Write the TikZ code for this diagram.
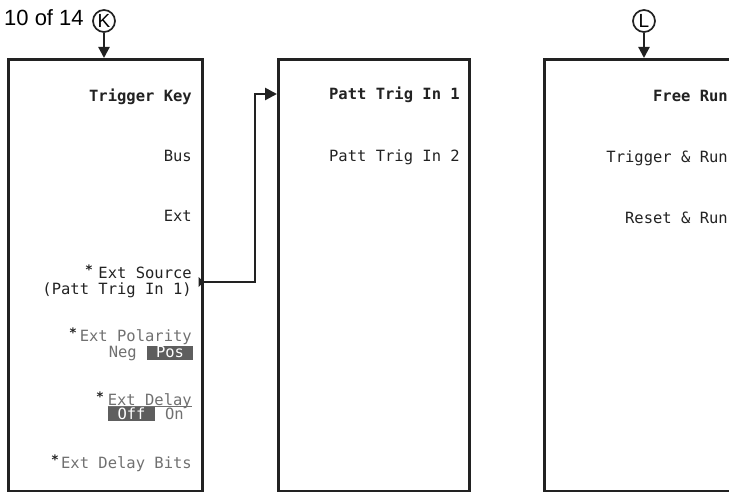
\documentclass[tikz,border=0pt]{standalone}
\usepackage{fontspec}
\setmainfont{Liberation Sans}
\newfontfamily\menufont{DejaVu Sans Mono}
\usetikzlibrary{arrows.meta,calc}
\definecolor{ink}{HTML}{222222}
\definecolor{dim}{HTML}{707070}
\definecolor{hil}{HTML}{5E5E5E}
\tikzset{
  menubox/.style={draw=ink, line width=2.6pt, anchor=north west, inner sep=0pt,
    minimum height=432pt},
  softkey/.style={anchor=base east, inner sep=0pt, text=ink, text height=9pt, text depth=1.5pt,
    font=\menufont\fontsize{15.5}{15.5}\selectfont},
  softtwo/.style={anchor=north east, inner sep=0pt, text=ink, align=right,
    font=\menufont\fontsize{15.5}{16}\selectfont},
  softbold/.style={softkey, font=\menufont\bfseries\fontsize{15.5}{15.5}\selectfont},
  softdim/.style={softkey, text=dim},
  starmark/.style={anchor=base, inner sep=0pt, text=ink, text height=7pt, text depth=0pt,
    font=\menufont\bfseries\fontsize{13}{13}\selectfont},
  hilbox/.style={fill=hil, inner sep=0pt},
  hiltext/.style={anchor=base, inner sep=0pt, text=white, text height=9pt, text depth=1.5pt,
    font=\menufont\fontsize{15.5}{15.5}\selectfont},
  tagcircle/.style={circle, draw=ink, line width=1.7pt, minimum size=22pt,
    inner sep=0pt, font=\fontsize{19}{19}\selectfont},
  feed/.style={draw=ink, line width=2.2pt, -{Triangle[length=11pt,width=11pt]}},
  conn/.style={draw=ink, line width=2.6pt, -{Triangle[length=12pt,width=12pt]}},
}
\begin{document}
\begin{tikzpicture}[x=1pt,y=-1pt]
\useasboundingbox (0,0) rectangle (729,492);
\clip (0,0) rectangle (729,492);

% boxes
\node[menubox, minimum width=194pt] (m1) at (7,58) {};
\node[menubox, minimum width=191pt] (m2) at (277,58) {};
\node[menubox, minimum width=220pt] (m3) at (543,58) {};

% page label and tags
\node[anchor=base west, inner sep=0pt, font=\fontsize{22}{22}\selectfont] (pg) at (4,26) {10 of 14};
\node[tagcircle] (K) at (104,21) {K};
\node[tagcircle] (L) at (644,21) {L};
\draw[feed] (K.south) -- (K.south |- m1.north);
\draw[feed] (L.south) -- (L.south |- m3.north);

% menu 1
\node[softbold] (t1) at (192,102) {Trigger Key};
\node[softkey] (t2) at (192,162) {Bus};
\node[softkey] (t3) at (192,222) {Ext};
\node[softtwo] (t4) at (192,266.5) {Ext Source\\(Patt Trig In 1)};
\node[starmark] (s4) at (89,274) {*};
\node[softdim] (t5a) at (192,341) {Ext Polarity};
\node[starmark] (s5) at (73,337) {*};
\node[softdim] (t5n) at (137,357) {Neg};
\node[hilbox, minimum width=46pt, minimum height=14pt, anchor=north west] (h5) at (147,345.5) {};
\node[hiltext] (t5p) at (170,357) {Pos};
\node[softdim] (t6a) at (192,405) {Ext Delay};
\draw[dim, line width=1pt] (t6a.base west) ++(0,1.5) -- ++(84,0);
\node[starmark] (s6) at (100,401) {*};
\node[hilbox, minimum width=47pt, minimum height=14pt, anchor=north west] (h6) at (108,407) {};
\node[hiltext] (t6o) at (131.5,419) {Off};
\node[softdim] (t6n) at (184,419) {On};
\node[softdim] (t7) at (192,468) {Ext Delay Bits};
\node[starmark] (s7) at (55,464) {*};

% menu 2
\node[softbold] (u1) at (460,100) {Patt Trig In 1};
\node[softkey] (u2) at (460,162) {Patt Trig In 2};

% menu 3
\node[softbold] (v1) at (728,102) {Free Run};
\node[softkey] (v2) at (728,163) {Trigger \& Run};
\node[softkey] (v3) at (728,224) {Reset \& Run};

% connector
\coordinate (src) at ($(m1.north east)+(0,224)$);
\coordinate (bend) at (255,94);
\fill[ink] (src) -- ++(-5,-5) -- ++(0,10) -- cycle;
\draw[conn] (src) -| (bend) -- (bend -| m2.west);
\end{tikzpicture}
\end{document}
